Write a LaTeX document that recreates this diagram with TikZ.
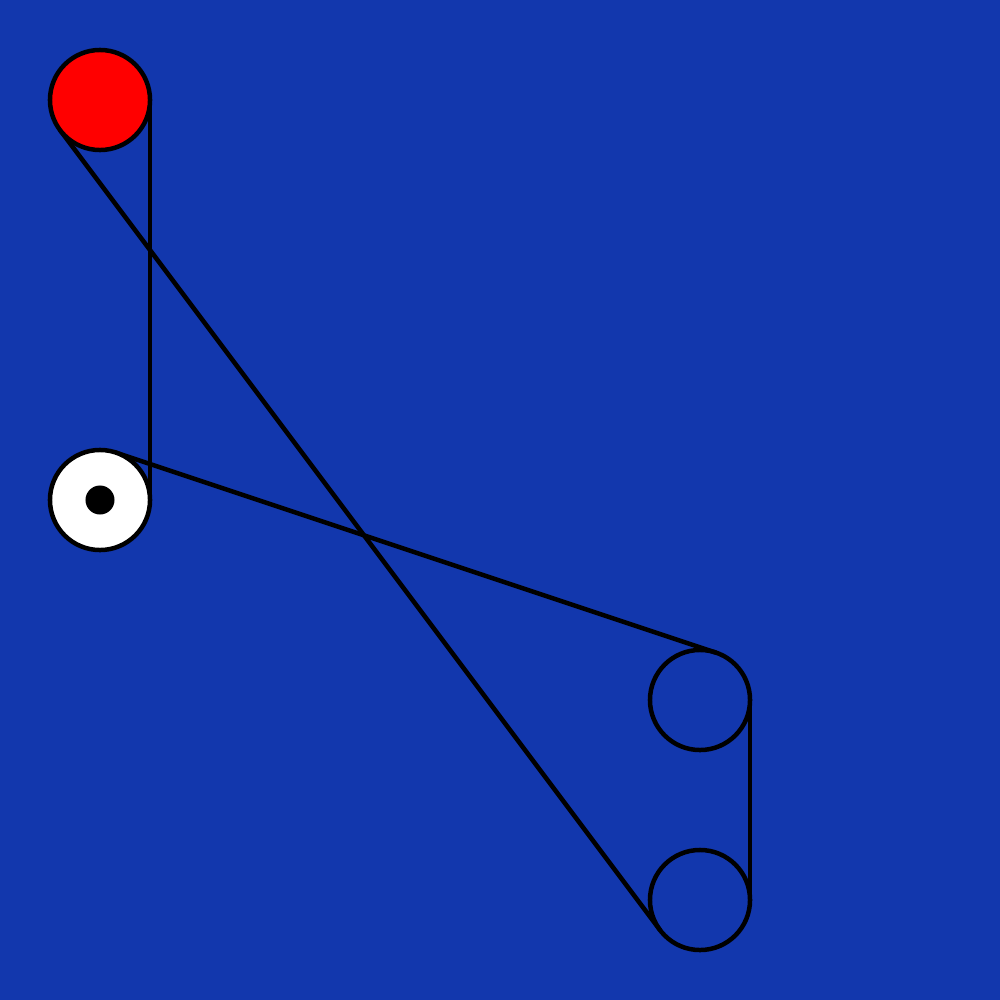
\documentclass[tikz,border=0pt]{standalone}
\definecolor{bgblue}{HTML}{1237AD}
\begin{document}
\begin{tikzpicture}[x=0.01cm,y=-0.01cm,
  pulley/.style={circle,draw=black,line width=0.045cm,minimum size=1cm,inner sep=0pt},
  belt/.style={draw=black,line width=0.045cm,line cap=round}]
\fill[bgblue] (0,0) rectangle (1000,1000);
\useasboundingbox (0,0) rectangle (1000,1000);
\coordinate (a1) at (150,100);
\coordinate (a2) at (150,500);
\coordinate (b1) at (60,130);
\coordinate (b2) at (660,930);
\coordinate (c1) at (115.8,452.6);
\coordinate (c2) at (715.8,652.6);
\coordinate (d1) at (750,700);
\coordinate (d2) at (750,900);
\draw[belt] (a1) -- (a2);
\draw[belt] (b1) -- (b2);
\draw[belt] (c1) -- (c2);
\draw[belt] (d1) -- (d2);
\node[pulley,fill=red] (p1) at (100,100) {};
\node[pulley,fill=white] (p2) at (100,500) {};
\node[circle,fill=black,minimum size=0.29cm,inner sep=0pt] (hub) at (100,500) {};
\node[pulley] (p3) at (700,700) {};
\node[pulley] (p4) at (700,900) {};
\end{tikzpicture}
\end{document}
